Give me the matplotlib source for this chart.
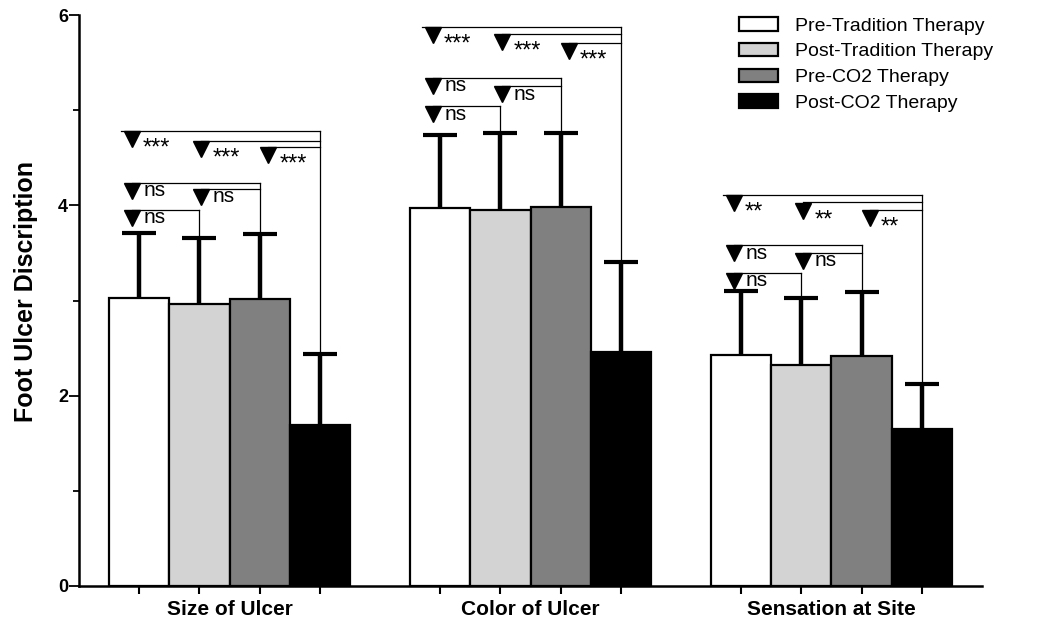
import matplotlib
matplotlib.use('Agg')
import numpy as np
from matplotlib import pyplot as plt
from matplotlib.transforms import offset_copy

plt.rcParams['font.family'] = ['Liberation Sans', 'DejaVu Sans']

groups = ['Size of Ulcer', 'Color of Ulcer', 'Sensation at Site']
therapies = ['Pre-Tradition Therapy', 'Post-Tradition Therapy',
             'Pre-CO2 Therapy', 'Post-CO2 Therapy']
colors = ['white', '#d3d3d3', '#808080', 'black']

# mean scores per group
pre_trad = [3.03, 3.97, 2.43]
post_trad = [2.96, 3.95, 2.32]
pre_co2 = [3.02, 3.98, 2.42]
post_co2 = [1.69, 2.46, 1.65]

# upper error (SD)
pre_trad_sd = [0.68, 0.77, 0.67]
post_trad_sd = [0.70, 0.81, 0.71]
pre_co2_sd = [0.68, 0.78, 0.67]
post_co2_sd = [0.75, 0.94, 0.47]

# significance brackets: pairs of bars and the height of each bracket
pairs = [(0, 1), (1, 2), (0, 2), (2, 3), (1, 3), (0, 3)]
bracket_y = [
    [3.95, 4.17, 4.24, 4.61, 4.68, 4.78],
    [5.04, 5.25, 5.34, 5.71, 5.80, 5.87],
    [3.29, 3.50, 3.58, 3.95, 4.03, 4.11],
]
sig_labels = ['***', '***', '**']

means = [pre_trad, post_trad, pre_co2, post_co2]
sds = [pre_trad_sd, post_trad_sd, pre_co2_sd, post_co2_sd]

fig = plt.figure(figsize=(10.61, 6.23), dpi=100)
ax = fig.add_axes([0.0745, 0.0594, 0.851, 0.9165])

n = len(therapies)
for j in range(n):
    x = np.arange(len(groups)) * (n + 1) + j
    ax.bar(x, means[j], width=1.0, color=colors[j], edgecolor='black',
           linewidth=1.6, label=therapies[j], zorder=2)
    eb = ax.errorbar(x, means[j], yerr=[np.zeros(len(groups)), sds[j]],
                     fmt='none', ecolor='black', elinewidth=3.2, capsize=12,
                     capthick=3, zorder=3)
    # only the upper cap is wanted
    for cap in eb[1]:
        if np.allclose(cap.get_ydata(), means[j]):
            cap.set_visible(False)

tri_tr = offset_copy(ax.transData, fig=fig, x=0, y=-5.8, units='points')
ns_tr = offset_copy(ax.transData, fig=fig, x=8, y=-9.5, units='points')
st_tr = offset_copy(ax.transData, fig=fig, x=8, y=-17, units='points')
tri_off = [-0.12, 0.03, 0.14]

for g in range(len(groups)):
    base = g * (n + 1)
    tops = [means[j][g] + sds[j][g] for j in range(n)]
    vmax = {}
    for (a, b), h in zip(pairs, bracket_y[g]):
        xa = base + a + tri_off[a]
        xb = base + b
        x0 = base - 0.3 if (a, b) == (0, 3) else xa
        ax.plot([x0, xb], [h, h], color='black', lw=0.9, zorder=4)
        vmax[b] = max(vmax.get(b, 0), h)
        ax.plot([xa], [h], marker='v', ms=11, color='black', transform=tri_tr,
                zorder=5)
        if b == 3:
            ax.text(xa, h, sig_labels[g], transform=st_tr, fontsize=17,
                    ha='left', va='baseline')
        else:
            ax.text(xa, h, 'ns', transform=ns_tr, fontsize=15,
                    ha='left', va='baseline')
    for b, h in vmax.items():
        ax.plot([base + b, base + b], [h, tops[b]], color='black', lw=0.9,
                zorder=4)

ax.set_xlim(-1, 14)
ax.set_ylim(0, 6)
ax.spines['top'].set_visible(False)
ax.spines['right'].set_visible(False)
ax.spines['left'].set_linewidth(1.8)
ax.spines['bottom'].set_linewidth(1.8)

ax.set_yticks([0, 2, 4, 6])
ax.set_yticks([1, 3, 5], minor=True)
ax.tick_params(axis='y', which='major', length=7, width=1.3, pad=1,
               labelsize=13)
ax.tick_params(axis='y', which='minor', length=4, width=1.3)
for lab in ax.get_yticklabels():
    lab.set_fontweight('bold')

bar_pos = [g * (n + 1) + j for g in range(len(groups)) for j in range(n)]
ax.set_xticks(bar_pos)
ax.set_xticklabels([])
ax.set_xticks([g * (n + 1) + (n - 1) / 2 for g in range(len(groups))],
              minor=True)
ax.set_xticklabels(groups, minor=True, fontsize=15, fontweight='bold')
ax.tick_params(axis='x', which='major', length=6, width=1.5)
ax.tick_params(axis='x', which='minor', length=0, pad=10)

ax.set_ylabel('Foot Ulcer Discription', fontsize=18, fontweight='bold')
ax.yaxis.set_label_coords(-0.046, 0.515)

ax.legend(loc='upper left', bbox_to_anchor=(0.6965, 0.9727),
          bbox_transform=fig.transFigure, frameon=False, fontsize=14,
          handlelength=2.0, handleheight=0.7, handletextpad=0.9,
          labelspacing=0.42, borderpad=0, borderaxespad=0)

fig.savefig('out.png', dpi=100)
